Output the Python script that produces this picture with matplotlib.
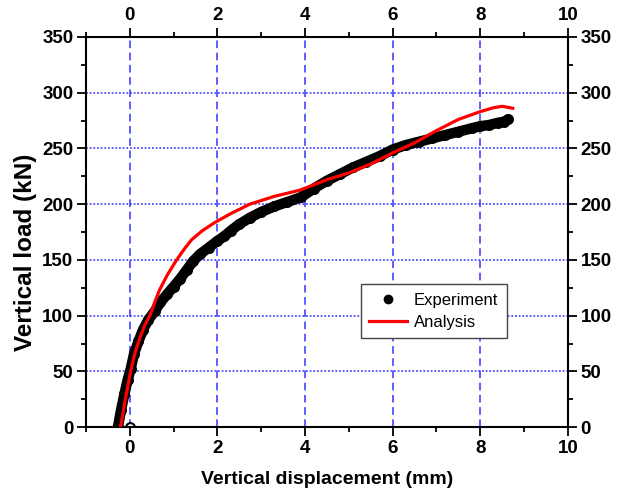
import matplotlib
matplotlib.use("Agg")
import matplotlib.pyplot as plt
from matplotlib.lines import Line2D

plt.rcParams['font.family'] = ['Liberation Sans', 'DejaVu Sans']

# experiment (load-displacement test record)
exp_x = [-0.27, -0.2, -0.12, -0.05, 0.02, 0.1, 0.2, 0.3, 0.42, 0.57, 0.7, 0.85,
         1.0, 1.15, 1.3, 1.45, 1.6, 1.8, 2.0, 2.15, 2.3, 2.5, 2.75, 3.0, 3.3,
         3.6, 3.9, 4.2, 4.5, 4.8, 5.1, 5.4, 5.7, 6.0, 6.3, 6.6, 6.9, 7.2, 7.5,
         7.8, 8.0, 8.2, 8.4, 8.55, 8.63]
exp_y = [0, 15, 30, 42, 52, 66, 77, 87, 96, 104, 112, 119,
         126, 133, 141, 149, 155, 161, 167, 171, 176, 182, 188, 193, 198,
         202, 206, 214, 221, 227, 233, 238, 243, 249, 253, 256, 259, 262, 265,
         268, 270, 271, 273, 274, 276]
# stray first reading at origin
start_x = [0.0]
start_y = [0.0]

# analysis
ana_x = [-0.21, -0.1, 0.02, 0.13, 0.25, 0.35, 0.46, 0.57, 0.68, 0.85, 1.07,
         1.25, 1.41, 1.65, 1.94, 2.28, 2.74, 3.3, 3.88, 4.5, 5.0, 5.5, 6.0,
         6.5, 7.0, 7.5, 8.0, 8.3, 8.5, 8.74]
ana_y = [0, 25, 50, 68, 82, 92, 100, 112, 123, 136, 150,
         160, 168, 176, 183.5, 191, 200, 207, 212.5, 222, 228, 236, 246,
         255, 266, 276, 283, 286.5, 287.8, 286]

fig = plt.figure(figsize=(6.18, 4.99), dpi=100)
ax = fig.add_axes([0.139, 0.144, 0.78, 0.782])

gc = '#3333ff'
for v in range(0, 11, 2):
    ax.axvline(v, color=gc, lw=1.1, ls=(0, (5, 3)), zorder=1)
for v in range(50, 351, 50):
    ax.axhline(v, color=gc, lw=1.1, ls=(0, (1.2, 1.2)), zorder=1)

# thick band of overlapping experiment points
ax.plot(exp_x, exp_y, color='black', lw=7.5, solid_capstyle='round', zorder=2)
ax.scatter(exp_x, exp_y, s=48, color='black', zorder=2)
ax.scatter(start_x, start_y, s=40, facecolor='white', edgecolor='black', lw=1.5,
           zorder=2)
ax.plot(ana_x, ana_y, color='red', lw=2.3, zorder=3)

ax.set_xlim(-1, 10)
ax.set_ylim(0, 350)
ax.set_xticks(range(0, 11, 2))
ax.set_xticks(range(-1, 11), minor=True)
ax.set_yticks(range(0, 351, 50))
ax.set_yticks(range(0, 351, 25), minor=True)
ax.tick_params(which='both', direction='out', top=True, right=True,
               labeltop=True, labelright=True, width=1.3)
ax.tick_params(which='major', length=6.5, labelsize=13.5, pad=2.5)
ax.tick_params(which='minor', length=3.5)
for t in ax.xaxis.get_major_ticks() + ax.yaxis.get_major_ticks():
    t.label1.set_fontweight('bold')
    t.label2.set_fontweight('bold')
for s in ax.spines.values():
    s.set_linewidth(1.5)

ax.set_xlabel('Vertical displacement (mm)', fontsize=14, fontweight='bold', labelpad=10)
ax.set_ylabel('Vertical load (kN)', fontsize=17.5, fontweight='bold')
ax.yaxis.set_label_coords(-0.102, 0.449)

handles = [Line2D([], [], ls='none', marker='o', color='black', ms=6),
           Line2D([], [], color='red', lw=2.3)]
leg = ax.legend(handles, ['Experiment', 'Analysis'], loc='upper left',
                bbox_to_anchor=(0.57, 0.366), fontsize=12, fancybox=False,
                framealpha=1, edgecolor='#444444', borderpad=0.5,
                handlelength=2.3, handletextpad=0.4, labelspacing=0.45,
                borderaxespad=0)
leg.get_frame().set_linewidth(1.0)
leg.set_zorder(5)

fig.savefig('out.png', dpi=100)
